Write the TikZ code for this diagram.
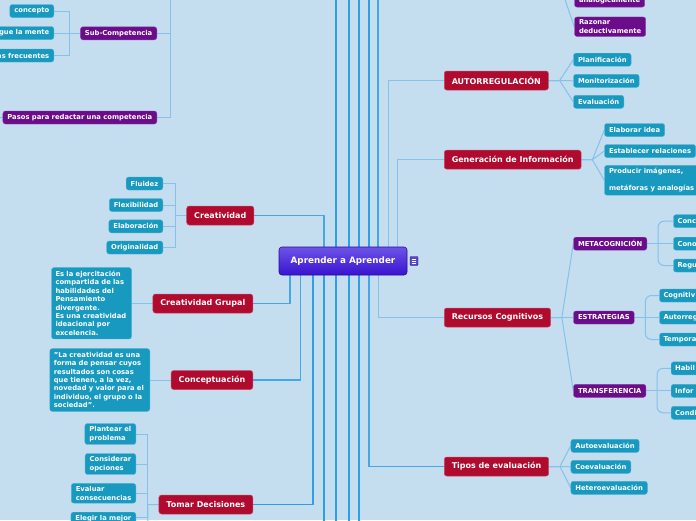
\documentclass[tikz,border=0pt]{standalone}
\usepackage{fontspec}
\setmainfont{DejaVu Sans}
\usetikzlibrary{calc}
\definecolor{cBg}{HTML}{C4DEF0}
\definecolor{cRed}{HTML}{B00A2E}
\definecolor{cPurp}{HTML}{6B0C8B}
\definecolor{cTeal}{HTML}{1899C0}
\definecolor{cLineL}{HTML}{86C1EB}
\definecolor{cLineD}{HTML}{2E9EE6}
\definecolor{cRootT}{HTML}{6C54E8}
\definecolor{cRootB}{HTML}{3912CF}
\definecolor{cRootE}{HTML}{2A0C9C}
\pgfdeclarelayer{bgl}
\pgfsetlayers{bgl,main}
\tikzset{
  mmbox/.style={rounded corners=2.5pt, text=white, inner ysep=2pt,
    font=\bfseries\fontsize{6.8}{8.4}\selectfont},
  leaf/.style={mmbox, fill=cTeal, draw=cTeal!80!white, line width=0.4pt, inner xsep=4.5pt, minimum height=13pt},
  pnode/.style={mmbox, fill=cPurp, draw=cPurp!80!white, line width=0.4pt, inner xsep=4.5pt, minimum height=13pt},
  branch/.style={mmbox, fill=cRed, draw=cRed!75!white, line width=0.5pt, inner xsep=7.5pt, minimum height=19pt,
    font=\bfseries\fontsize{8}{10}\selectfont},
  rootbox/.style={rounded corners=3pt, text=white, top color=cRootT, bottom color=cRootB, draw=cRootE,
    line width=0.6pt, minimum width=128pt, minimum height=28pt, font=\bfseries\fontsize{8.8}{10}\selectfont},
  conn/.style={draw=cLineL, line width=1pt},
  connM/.style={draw=cLineD!75!cLineL, line width=1.1pt},
  connD/.style={draw=cLineD, line width=1.4pt},
}
\begin{document}
\begin{tikzpicture}[x=1pt,y=-1pt]
\useasboundingbox (0,0) rectangle (696,520);
\begin{pgfonlayer}{bgl}
\fill[cBg] (0,0) rectangle (696,520);
\end{pgfonlayer}

% ---------- off-screen coordinates
\coordinate (t1) at (336,-5);
\coordinate (t2) at (349,-5);
\coordinate (t3) at (359,-5);
\coordinate (t4) at (369,-5);
\coordinate (t5) at (378,-5);
\coordinate (b1) at (324,525);
\coordinate (b2) at (336,525);
\coordinate (b3) at (349,525);
\coordinate (b4) at (359,525);
\coordinate (tl) at (170,-5);
\coordinate (pl) at (-5,117.5);
\coordinate (rf) at (561,-12);
\coordinate (tdb) at (148,525);

% ---------- root
\node[rootbox] (root) at (343,261) {Aprender a Aprender};
\node[fill=cRootT!85!black, draw=cRootE, rounded corners=1pt, minimum width=8pt, minimum height=9pt, inner sep=0pt] (ic) at (414,261) {};
\draw[white, line width=0.6pt] ($(ic.center)+(-2.3,-2)$) -- ($(ic.center)+(2.3,-2)$)
  ($(ic.center)+(-2.3,0)$) -- ($(ic.center)+(2.3,0)$)
  ($(ic.center)+(-2.3,2)$) -- ($(ic.center)+(2.3,2)$);

% ---------- branches
\node[branch, anchor=east] (crea) at (254,215.5) {Creatividad};
\node[branch, anchor=east] (cgru) at (253,303.5) {Creatividad Grupal};
\node[branch, anchor=east] (conce) at (253,380) {Conceptuación};
\node[branch, anchor=east] (tomar) at (253,504.5) {Tomar Decisiones};
\node[branch, anchor=west] (autor) at (444,80.5) {AUTORREGULACIÓN};
\node[branch, anchor=west] (gener) at (444,159.7) {Generación de Información};
\node[branch, anchor=west] (recur) at (444,317.5) {Recursos Cognitivos};
\node[branch, anchor=west] (tipos) at (444,466.5) {Tipos de evaluación};

% ---------- top-left
\node[leaf, anchor=east] (cpto) at (54,11) {concepto};
\node[leaf, anchor=east, text width=72pt, align=right] (mente) at (54,33) {gue la mente};
\node[leaf, anchor=east, text width=72pt, align=right] (frec) at (54,55.5) {as frecuentes};
\node[pnode, anchor=east] (subc) at (157,33.3) {Sub-Competencia};
\node[pnode, anchor=east] (pasos) at (157,117.5) {Pasos para redactar una competencia};

% ---------- Creatividad leaves
\node[leaf, anchor=east] (flu) at (163,183.5) {Fluidez};
\node[leaf, anchor=east] (flex) at (163,205) {Flexibilidad};
\node[leaf, anchor=east] (elab) at (163,226.3) {Elaboración};
\node[leaf, anchor=east] (orig) at (163,247.5) {Originalidad};

% ---------- text boxes
\node[leaf, anchor=east, text width=72pt, align=left, inner xsep=4pt, inner ysep=3.5pt] (cgtext) at (131.7,303.3)
 {Es la ejercitación\\compartida de las\\habilidades del\\Pensamiento\\divergente.\\Es una creatividad\\ideacional por\\excelencia.};
\node[leaf, anchor=east, text width=92pt, align=left, inner xsep=4pt, inner ysep=3.5pt] (cctext) at (150,380)
 {"La creatividad es una\\forma de pensar cuyos\\resultados son cosas\\que tienen, a la vez,\\novedad y valor para el\\individuo, el grupo o la\\sociedad".};

% ---------- Tomar decisiones leaves
\node[leaf, anchor=east, align=left, inner ysep=3pt] (plant) at (136,434) {Plantear el\\problema};
\node[leaf, anchor=east, align=left, inner ysep=3pt] (consid) at (136,464) {Considerar\\opciones};
\node[leaf, anchor=east, align=left, inner ysep=3pt] (evalc) at (136,493.3) {Evaluar\\consecuencias};
\node[leaf, anchor=north east, align=left, inner ysep=3pt] (elegir) at (136,512) {Elegir la mejor\\\strut};

% ---------- right leaves
\node[leaf, anchor=west] (plan) at (573.3,59.7) {Planificación};
\node[leaf, anchor=west] (moni) at (573.3,80.8) {Monitorización};
\node[leaf, anchor=west] (evalu) at (573.3,101.8) {Evaluación};
\node[pnode, anchor=south west, align=left, inner ysep=3pt] (anal) at (574.3,7.3) {\strut\\analógicamente};
\node[pnode, anchor=west, align=left, inner ysep=3pt] (razo) at (574.3,26.7) {Razonar\\deductivamente};
\node[leaf, anchor=west] (eidea) at (604.3,130) {Elaborar idea};
\node[leaf, anchor=west] (estab) at (604.3,151) {Establecer relaciones};
\node[leaf, anchor=west, align=left, inner ysep=3pt] (produ) at (604.3,180.3) {Producir imágenes,\\[8.5pt]metáforas y analogías};
\node[pnode, anchor=west] (meta) at (573.3,243.7) {METACOGNICIÓN};
\node[pnode, anchor=west] (estr) at (573.3,317.5) {ESTRATEGIAS};
\node[pnode, anchor=west] (trans) at (573.3,390.8) {TRANSFERENCIA};
\node[leaf, anchor=west, text width=40pt, align=left, inner xsep=4pt] (mc1) at (673.3,221.2) {Conc};
\node[leaf, anchor=west, text width=40pt, align=left, inner xsep=4pt] (mc2) at (673.3,243.7) {Cono};
\node[leaf, anchor=west, text width=40pt, align=left, inner xsep=4pt] (mc3) at (673.3,265.5) {Regu};
\node[leaf, anchor=west, text width=50pt, align=left, inner xsep=4pt] (es1) at (659.3,295.5) {Cognitiv};
\node[leaf, anchor=west, text width=50pt, align=left, inner xsep=4pt] (es2) at (659.3,317.5) {Autorreg};
\node[leaf, anchor=west, text width=50pt, align=left, inner xsep=4pt] (es3) at (659.3,339.5) {Tempora};
\node[leaf, anchor=west, text width=40pt, align=left, inner xsep=4pt] (tr1) at (671,368.3) {Habil};
\node[leaf, anchor=west, text width=40pt, align=left, inner xsep=4pt] (tr2) at (671,390.8) {Infor};
\node[leaf, anchor=west, text width=40pt, align=left, inner xsep=4pt] (tr3) at (671,412.8) {Condi};
\node[leaf, anchor=west] (autoev) at (570.7,445.8) {Autoevaluación};
\node[leaf, anchor=west] (coev) at (570.7,466.8) {Coevaluación};
\node[leaf, anchor=west] (hetero) at (570.7,487.8) {Heteroevaluación};

% ---------- connectors (behind nodes)
\begin{pgfonlayer}{bgl}
% root to off-screen
\foreach \c in {t1,t2,t3,t4}{\draw[connD] (root.north -| \c) -- (\c);}
\draw[connM] (root.north -| t5) -- (t5);
\foreach \c in {b1,b2,b3,b4}{\draw[connD] (root.south -| \c) -- (\c);}
% root to branches
\draw[connM] ([xshift=-19pt]root.north) |- (crea.east);
\draw[connM] ([xshift=-53pt]root.south) |- (cgru.east);
\draw[connM] ([xshift=-42.3pt]root.south) |- (conce.east);
\draw[connD] ([xshift=-30pt]root.south) |- (tomar.east);
\draw[conn] ([xshift=45pt]root.north) |- (autor.west);
\draw[conn] ([xshift=54pt]root.north) |- (gener.west);
\draw[conn] ([xshift=35pt]root.south) |- (recur.west);
\draw[connM] ([xshift=26pt]root.south) |- (tipos.west);
% top-left
\draw[conn] (subc.east) -| (tl);
\draw[conn] (pasos.east) -| (tl);
\draw[conn] (pasos.west) -- (pl);
\foreach \n in {cpto,mente,frec}{\draw[conn] (subc.west) -- ++(-11,0) |- (\n.east);}
% creatividad
\foreach \n in {flu,flex,elab,orig}{\draw[conn] (crea.west) -- ++(-11,0) |- (\n.east);}
\draw[conn] (cgru.west) -- (cgru.west -| cgtext.east);
\draw[conn] (conce.west) -- (conce.west -| cctext.east);
\foreach \n in {plant,consid,evalc}{\draw[conn] (tomar.west) -- ++(-11,0) |- (\n.east);}
\draw[conn] (tomar.west) -- ++(-11,0) |- ([yshift=6pt]elegir.east);
\draw[conn] (tomar.west) -- ++(-11,0) -- (tdb);
% right fans
\foreach \n in {plan,moni,evalu}{\draw[conn] (autor.east) -- ++(11,0) -- (\n.west);}
\draw[conn] (rf) -- (anal.west);
\draw[conn] (rf) -- (razo.west);
\foreach \n in {eidea,estab,produ}{\draw[conn] (gener.east) -- ++(11,0) -- (\n.west);}
\foreach \n in {meta,estr,trans}{\draw[conn] (recur.east) -- ++(11,0) -- (\n.west);}
\foreach \n in {autoev,coev,hetero}{\draw[conn] (tipos.east) -- ++(11,0) -- (\n.west);}
% curved brackets
\draw[conn, rounded corners=6pt] (mc1.west) -| ([xshift=11pt]meta.east) |- (mc3.west);
\draw[conn] (meta.east) -- (mc2.west);
\draw[conn, rounded corners=6pt] (es1.west) -| ([xshift=11pt]estr.east) |- (es3.west);
\draw[conn] (estr.east) -- (es2.west);
\draw[conn, rounded corners=6pt] (tr1.west) -| ([xshift=11pt]trans.east) |- (tr3.west);
\draw[conn] (trans.east) -- (tr2.west);
\end{pgfonlayer}
\end{tikzpicture}
\end{document}
